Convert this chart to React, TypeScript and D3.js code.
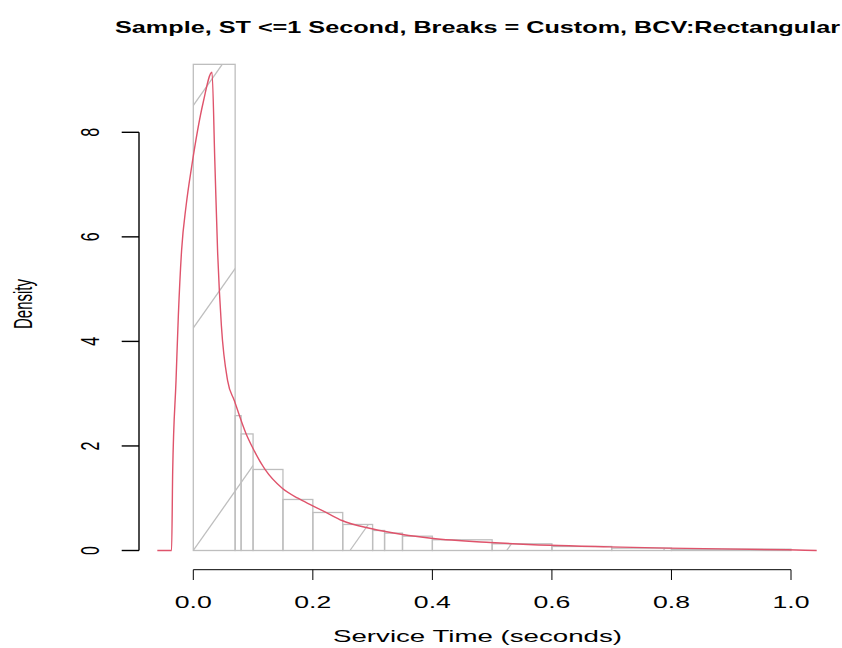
import React from 'react';
import * as d3 from 'd3';

// histogram (custom breaks), density scale
const breaks = [0, 0.07, 0.08, 0.1, 0.15, 0.2, 0.25, 0.3, 0.32, 0.35, 0.4, 0.5, 0.6, 0.7, 0.8, 1.0];
const densities = [9.3, 2.58, 2.23, 1.55, 0.976, 0.727, 0.498, 0.383, 0.332, 0.274, 0.205, 0.128, 0.077, 0.045, 0.025];

// kernel density estimate (rectangular kernel), red line
const kdeX = [-0.0602, -0.0363, -0.0345, -0.0289, -0.025, -0.0196, -0.012, -0.0028, 0.0167, 0.0313,
  0.036, 0.0406, 0.047, 0.0574, 0.0686, 0.0881, 0.0987, 0.12, 0.1488, 0.175, 0.199, 0.225, 0.2487, 0.2988,
  0.35, 0.398, 0.497, 0.597, 0.696, 0.795, 0.994, 1.043];
const kdeY = [0, 0, 1.5, 3.25, 4.5, 5.74, 6.6, 7.34, 8.58, 9.15,
  7.45, 5.74, 4.3, 3.25, 2.87, 2.24, 1.98, 1.55, 1.19, 1.0, 0.86, 0.71, 0.574, 0.415,
  0.306, 0.235, 0.153, 0.1, 0.07, 0.045, 0.013, 0];

const xTicks = [0, 0.2, 0.4, 0.6, 0.8, 1.0];
const yTicks = [0, 2, 4, 6, 8];

const title = 'Sample, ST <=1 Second, Breaks = Custom, BCV:Rectangular';
const xTitle = 'Service Time (seconds)';
const yTitle = 'Density';

export default function App() {
  const x = d3.scaleLinear().domain([0, 1]).range([193.3, 791]);
  const y = d3.scaleLinear().domain([0, 8]).range([550.5, 132.3]);

  const bars = densities.map((d, i) => ({x0: breaks[i], x1: breaks[i + 1], d}));
  const kde = kdeX.map((v, i) => [v, kdeY[i]] as [number, number]);
  const line = d3.line<[number, number]>()
    .x(d => x(d[0]))
    .y(d => y(d[1]))
    .curve(d3.curveMonotoneX);

  // shading lines (density=) of the bars, rising to the right
  const slope = 1.42;
  const step = 156.7;
  const hatch = d3.range(-2, 4).map(k => x(0) + k * step);

  const gray = '#BEBEBE';
  const font = 'Liberation Sans, Arial, Helvetica, sans-serif';

  return (
    <svg width={842} height={648} style={{position: 'absolute', left: 0, top: 0, background: '#fff'}}>
      <defs>
        <clipPath id="barclip">
          {bars.map((b, i) => (
            <rect key={i} x={x(b.x0)} y={y(b.d)} width={x(b.x1) - x(b.x0)} height={y(0) - y(b.d)} />
          ))}
        </clipPath>
      </defs>

      <g clipPath="url(#barclip)">
        {hatch.map((bx, i) => (
          <line key={i} x1={bx} y1={y(0)} x2={bx + 700 / slope} y2={y(0) - 700}
            stroke={gray} strokeWidth={1.3} />
        ))}
      </g>
      {bars.map((b, i) => (
        <rect key={i} x={x(b.x0)} y={y(b.d)} width={x(b.x1) - x(b.x0)} height={y(0) - y(b.d)}
          fill="none" stroke={gray} strokeWidth={1.3} />
      ))}

      <path d={line(kde) || ''} fill="none" stroke="#DF536B" strokeWidth={1.4} />

      {/* x axis */}
      <g stroke="#000" strokeWidth={1}>
        <line x1={x(0)} x2={x(1)} y1={569.7} y2={569.7} />
        {xTicks.map(t => (
          <line key={t} x1={x(t)} x2={x(t)} y1={569.7} y2={580} />
        ))}
      </g>
      {xTicks.map(t => (
        <text key={t} x={x(t)} y={607.5} textAnchor="middle" fontFamily={font} fontSize={16.5}
          textLength={37} lengthAdjust="spacingAndGlyphs">{t.toFixed(1)}</text>
      ))}

      {/* y axis */}
      <g stroke="#000" strokeWidth={1.4}>
        <line x1={139} x2={139} y1={y(0)} y2={y(8)} />
        {yTicks.map(t => (
          <line key={t} x1={121.7} x2={139} y1={y(t)} y2={y(t)} />
        ))}
      </g>
      {yTicks.map(t => (
        <text key={t} transform={`translate(99.3,${y(t)}) scale(1.6,1) rotate(-90)`} textAnchor="middle"
          fontFamily={font} fontSize={16}>{t}</text>
      ))}

      <text x={477.5} y={32.7} textAnchor="middle" fontFamily={font} fontWeight="bold" fontSize={16.7}
        textLength={725} lengthAdjust="spacingAndGlyphs">{title}</text>
      <text x={477.5} y={642} textAnchor="middle" fontFamily={font} fontSize={16.5}
        textLength={289} lengthAdjust="spacingAndGlyphs">{xTitle}</text>
      <text transform="translate(32,304) scale(1.6,1) rotate(-90)" textAnchor="middle" fontFamily={font}
        fontSize={16} textLength={50} lengthAdjust="spacingAndGlyphs">{yTitle}</text>
    </svg>
  );
}
